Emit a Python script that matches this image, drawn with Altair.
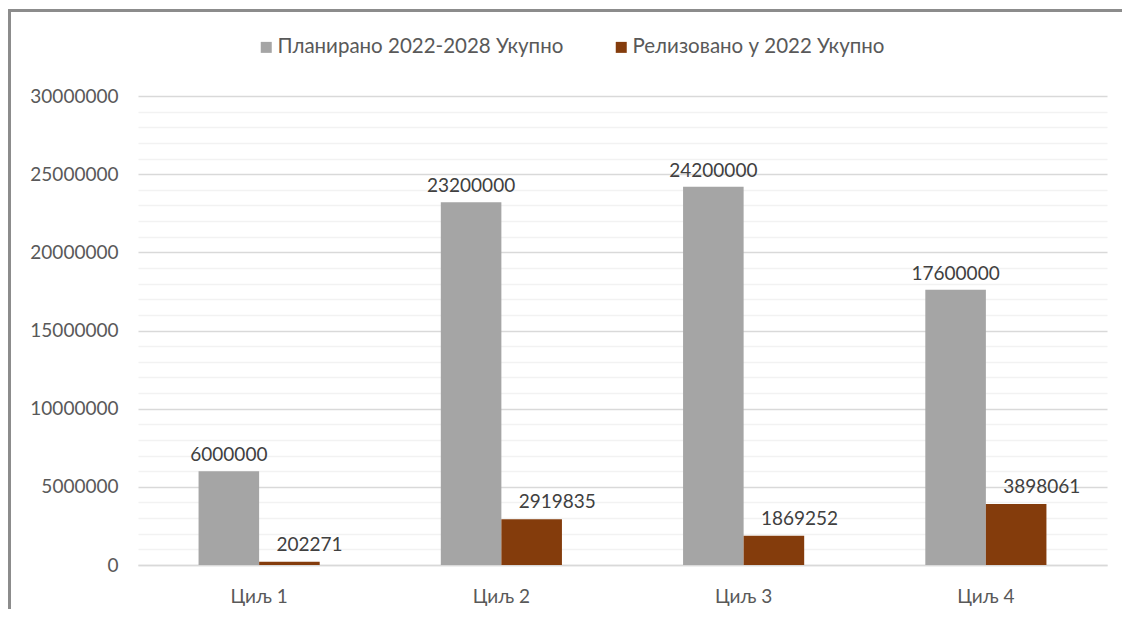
import altair as alt
import pandas as pd

categories = ["Циљ 1", "Циљ 2", "Циљ 3", "Циљ 4"]
series_names = ["Планирано 2022-2028 Укупно", "Релизовано у 2022 Укупно"]
planned = [6000000, 23200000, 24200000, 17600000]
realized = [202271, 2919835, 1869252, 3898061]
y_ticks = list(range(0, 30000001, 1000000))
colors = ["#A5A5A5", "#843C0C"]

rows = []
for i, c in enumerate(categories):
    rows.append({"cat": c, "series": series_names[0], "value": planned[i], "order": 0})
    rows.append({"cat": c, "series": series_names[1], "value": realized[i], "order": 1})
df = pd.DataFrame(rows)

FONT = "Lato"
FS = 19

y_axis = alt.Axis(title=None, values=y_ticks, format="d", labelOverlap=False,
                  labelExpr="datum.value % 5000000 === 0 ? datum.label : ''",
                  labelFontSize=FS, labelColor="#595959", labelFont=FONT,
                  labelPadding=20, ticks=False, domain=False,
                  gridColor={"condition": {"test": "datum.value % 5000000 === 0", "value": "#D9D9D9"},
                             "value": "#F2F2F2"},
                  gridWidth=1.5)
y_scale = alt.Scale(domain=[0, 30000000], nice=False)
x_axis = alt.Axis(title=None, labelAngle=0, labelFontSize=FS, labelColor="#595959",
                  labelFont=FONT, ticks=False, domain=True, domainColor="#D9D9D9",
                  domainWidth=1.5, labelPadding=22, grid=False)
x_enc = alt.X("cat:N", sort=categories,
              scale=alt.Scale(paddingInner=0.5, paddingOuter=0.25), axis=x_axis)
xoff = alt.XOffset("series:N", sort=series_names, scale=alt.Scale(paddingInner=0, paddingOuter=0))

bars = alt.Chart(df).mark_bar().encode(
    x=x_enc,
    xOffset=xoff,
    y=alt.Y("value:Q", scale=y_scale, axis=y_axis),
    color=alt.Color("series:N", sort=series_names,
                    scale=alt.Scale(domain=series_names, range=colors),
                    legend=alt.Legend(title=None, orient="none", direction="horizontal",
                                      legendX=118, legendY=-59, symbolType="square",
                                      symbolSize=121, symbolStrokeWidth=0, labelFontSize=20.5,
                                      labelColor="#595959", labelFont=FONT, columnPadding=47,
                                      labelOffset=1, labelLimit=0)),
)

labels_planned = alt.Chart(df[df["order"] == 0]).mark_text(
    fontSize=FS, color="#404040", font=FONT, baseline="bottom", dy=-6
).encode(
    x=x_enc,
    xOffset=xoff,
    y=alt.Y("value:Q", scale=y_scale, axis=y_axis),
    text=alt.Text("value:Q", format="d"),
)

labels_real = alt.Chart(df[df["order"] == 1]).mark_text(
    fontSize=FS, color="#404040", font=FONT, baseline="bottom", dy=-7, align="left", dx=-13
).encode(
    x=x_enc,
    xOffset=xoff,
    y=alt.Y("value:Q", scale=y_scale, axis=y_axis),
    text=alt.Text("value:Q", format="d"),
)

border_top = alt.Chart(df).mark_rule(color="#8C8C8C", strokeWidth=2.5).encode(
    x=alt.value(-128.5), x2=alt.value(1100), y=alt.value(-85.5))
border_left = alt.Chart(df).mark_rule(color="#8C8C8C", strokeWidth=2.5).encode(
    x=alt.value(-128.5), y=alt.value(-86.5), y2=alt.value(600))

chart = alt.layer(bars, labels_planned, labels_real, border_top, border_left).properties(
    width=969, height=469,
    background="white",
    autosize=alt.AutoSizeParams(type="none"),
    padding={"left": 130, "top": 88, "right": 15, "bottom": 44},
).configure_view(strokeWidth=0, stroke="transparent")

chart.save("out.html", embed_options={"renderer": "svg", "actions": False})
